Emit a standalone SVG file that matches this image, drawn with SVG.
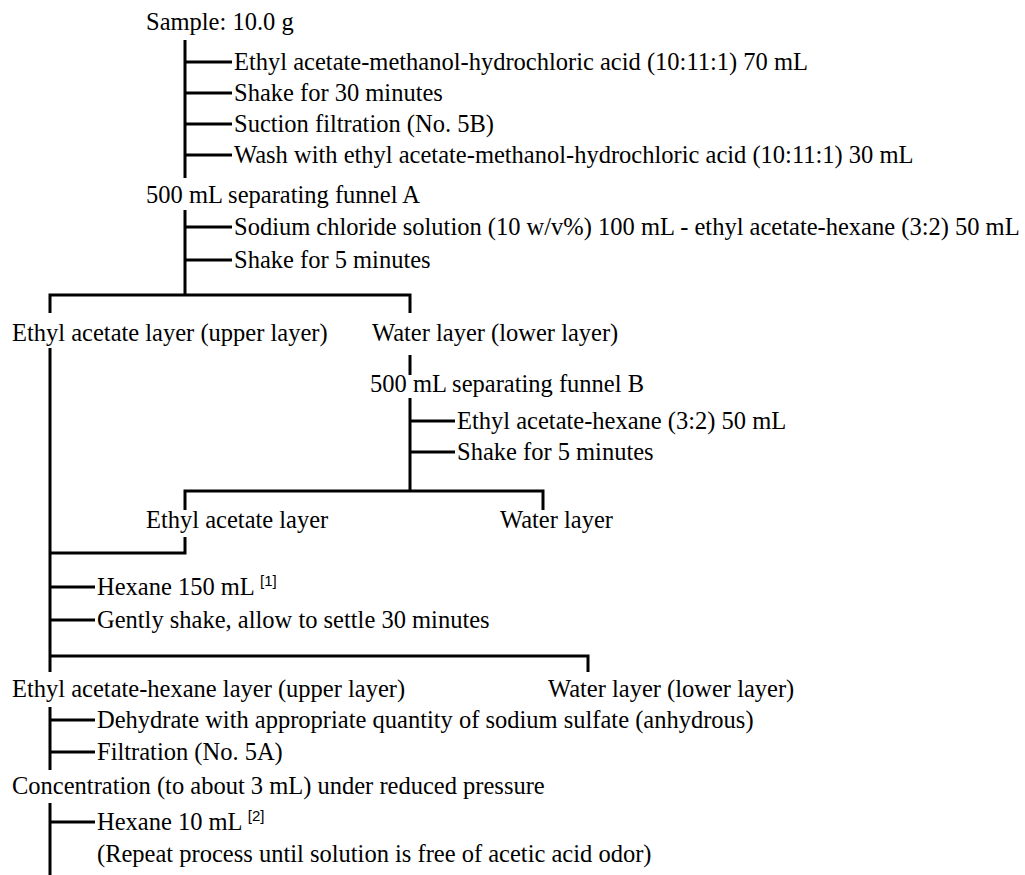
<svg xmlns="http://www.w3.org/2000/svg" width="1025" height="875" viewBox="0 0 1025 875">
<style>
.t{font-family:"Liberation Serif","Times New Roman",serif;font-size:24.5px;fill:#000}
.s{font-family:"Liberation Sans",Arial,sans-serif;font-size:15px}
.c{stroke:#000;stroke-width:3;fill:none}
</style>
<rect width="1025" height="875" fill="#fff"/>
<g id="connectors" class="c">
<path d="M185 40V178M185 62H232M185 93H232M185 124H232M185 155H232"/>
<path d="M185 210V295M185 227H232M185 260H232"/>
<path d="M50 313V295H410V313"/>
<path d="M410 355V375"/>
<path d="M410 398V491M410 421H455M410 452H455"/>
<path d="M185 510V491H543V510"/>
<path d="M50 348V672M185 537V553H50M50 587H95M50 620H95"/>
<path d="M50 656H588V672"/>
<path d="M50 707V770M50 720H95M50 752H95"/>
<path d="M50 803V875M50 822H95"/>
</g>
<g id="n-sample"><text class="t" x="146" y="30">Sample: 10.0 g</text></g>
<g id="n-step1"><text class="t" x="234" y="70">Ethyl acetate-methanol-hydrochloric acid (10:11:1) 70 mL</text></g>
<g id="n-step2"><text class="t" x="234" y="101">Shake for 30 minutes</text></g>
<g id="n-step3"><text class="t" x="234" y="132">Suction filtration (No. 5B)</text></g>
<g id="n-step4"><text class="t" x="234" y="163">Wash with ethyl acetate-methanol-hydrochloric acid (10:11:1) 30 mL</text></g>
<g id="n-funnelA"><text class="t" x="146" y="203">500 mL separating funnel A</text></g>
<g id="n-stepA1"><text class="t" x="234" y="235">Sodium chloride solution (10 w/v%) 100 mL - ethyl acetate-hexane (3:2) 50 mL</text></g>
<g id="n-stepA2"><text class="t" x="234" y="268">Shake for 5 minutes</text></g>
<g id="n-ea-upper"><text class="t" x="12" y="341">Ethyl acetate layer (upper layer)</text></g>
<g id="n-water-lower"><text class="t" x="372" y="341">Water layer (lower layer)</text></g>
<g id="n-funnelB"><text class="t" x="370" y="392">500 mL separating funnel B</text></g>
<g id="n-stepB1"><text class="t" x="457" y="429">Ethyl acetate-hexane (3:2) 50 mL</text></g>
<g id="n-stepB2"><text class="t" x="457" y="460">Shake for 5 minutes</text></g>
<g id="n-ea"><text class="t" x="146" y="528">Ethyl acetate layer</text></g>
<g id="n-water"><text class="t" x="500" y="528">Water layer</text></g>
<g id="n-hexane150"><text class="t" x="97" y="595">Hexane 150 mL <tspan class="s" dy="-9">[1]</tspan></text></g>
<g id="n-gently"><text class="t" x="97" y="628">Gently shake, allow to settle 30 minutes</text></g>
<g id="n-eahex-upper"><text class="t" x="12" y="697">Ethyl acetate-hexane layer (upper layer)</text></g>
<g id="n-water-lower2"><text class="t" x="548" y="697">Water layer (lower layer)</text></g>
<g id="n-dehydrate"><text class="t" x="97" y="728">Dehydrate with appropriate quantity of sodium sulfate (anhydrous)</text></g>
<g id="n-filtration"><text class="t" x="97" y="760">Filtration (No. 5A)</text></g>
<g id="n-concentration"><text class="t" x="12" y="794">Concentration (to about 3 mL) under reduced pressure</text></g>
<g id="n-hexane10"><text class="t" x="97" y="830">Hexane 10 mL <tspan class="s" dy="-9">[2]</tspan></text></g>
<g id="n-repeat"><text class="t" x="97" y="862">(Repeat process until solution is free of acetic acid odor)</text></g>
</svg>
